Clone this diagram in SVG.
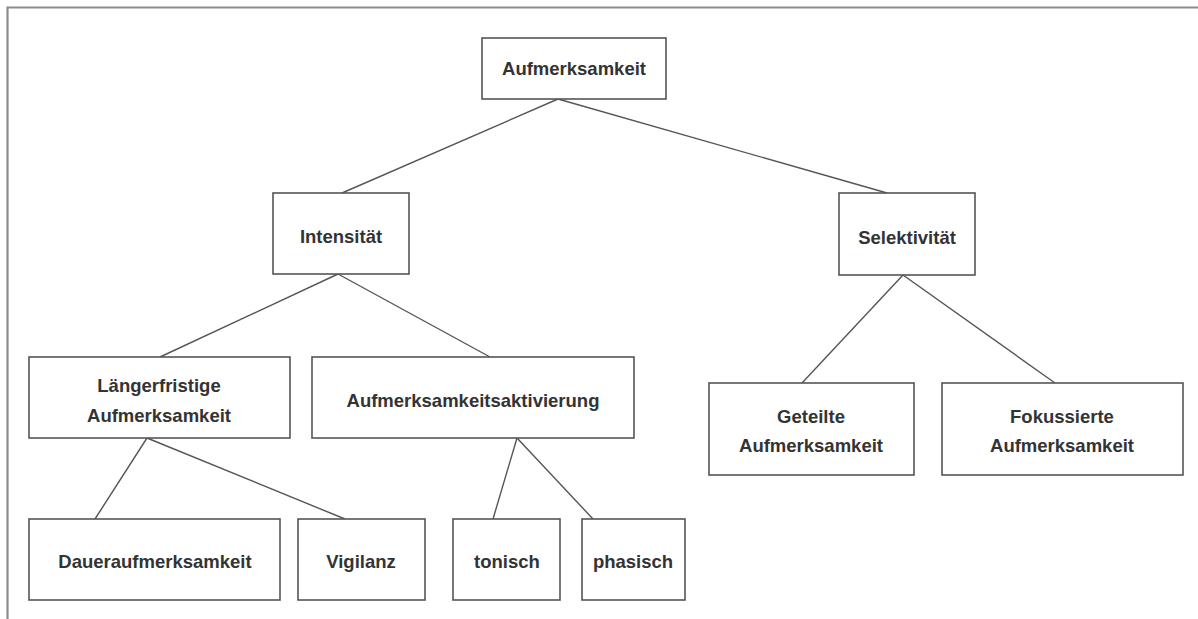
<svg xmlns="http://www.w3.org/2000/svg" width="1198" height="619" viewBox="0 0 1198 619">
  <style>
    .box { fill: #ffffff; stroke: #555555; stroke-width: 1.6; }
    .lbl { font-family: "Liberation Sans", Arial, sans-serif; font-weight: bold; font-size: 18.5px; fill: #333333; text-anchor: middle; }
    .edge { stroke: #555555; stroke-width: 1.4; fill: none; }
    .frame { stroke: #8c8c8c; stroke-width: 2.2; fill: none; }
  </style>
  <rect width="1198" height="619" fill="#ffffff"/>
  <!-- outer frame: top and left edges -->
  <path class="frame" d="M7.5 619 V7.5 H1198"/>

  <g id="connectors">
    <line class="edge" x1="558" y1="99" x2="342" y2="193"/>
    <line class="edge" x1="558" y1="99" x2="887" y2="193"/>
    <line class="edge" x1="338" y1="274" x2="160" y2="357"/>
    <line class="edge" x1="338" y1="274" x2="490" y2="357"/>
    <line class="edge" x1="903" y1="275" x2="802" y2="383"/>
    <line class="edge" x1="903" y1="275" x2="1055" y2="383"/>
    <line class="edge" x1="147" y1="438" x2="95" y2="519"/>
    <line class="edge" x1="147" y1="438" x2="345" y2="519"/>
    <line class="edge" x1="517" y1="438" x2="493" y2="519"/>
    <line class="edge" x1="517" y1="438" x2="593" y2="519"/>
  </g>

  <g id="aufmerksamkeit">
    <rect class="box" x="482" y="38" width="184" height="61"/>
    <text class="lbl" x="574" y="75">Aufmerksamkeit</text>
  </g>
  <g id="intensitaet">
    <rect class="box" x="273" y="193" width="136" height="81"/>
    <text class="lbl" x="341" y="243">Intensität</text>
  </g>
  <g id="selektivitaet">
    <rect class="box" x="839" y="193" width="136" height="82"/>
    <text class="lbl" x="907" y="244">Selektivität</text>
  </g>
  <g id="laengerfristige">
    <rect class="box" x="29" y="357" width="261" height="81"/>
    <text class="lbl" x="159" y="392">Längerfristige</text>
    <text class="lbl" x="159" y="422">Aufmerksamkeit</text>
  </g>
  <g id="aktivierung">
    <rect class="box" x="312" y="357" width="322" height="81"/>
    <text class="lbl" x="473" y="407">Aufmerksamkeitsaktivierung</text>
  </g>
  <g id="geteilte">
    <rect class="box" x="709" y="383" width="205" height="92"/>
    <text class="lbl" x="811" y="423">Geteilte</text>
    <text class="lbl" x="811" y="452">Aufmerksamkeit</text>
  </g>
  <g id="fokussierte">
    <rect class="box" x="942" y="383" width="241" height="92"/>
    <text class="lbl" x="1062" y="423">Fokussierte</text>
    <text class="lbl" x="1062" y="452">Aufmerksamkeit</text>
  </g>
  <g id="daueraufmerksamkeit">
    <rect class="box" x="29" y="519" width="251" height="81"/>
    <text class="lbl" x="155" y="568">Daueraufmerksamkeit</text>
  </g>
  <g id="vigilanz">
    <rect class="box" x="298" y="519" width="127" height="81"/>
    <text class="lbl" x="361" y="568">Vigilanz</text>
  </g>
  <g id="tonisch">
    <rect class="box" x="453" y="519" width="107" height="81"/>
    <text class="lbl" x="507" y="568">tonisch</text>
  </g>
  <g id="phasisch">
    <rect class="box" x="582" y="519" width="103" height="81"/>
    <text class="lbl" x="633" y="568">phasisch</text>
  </g>
</svg>
